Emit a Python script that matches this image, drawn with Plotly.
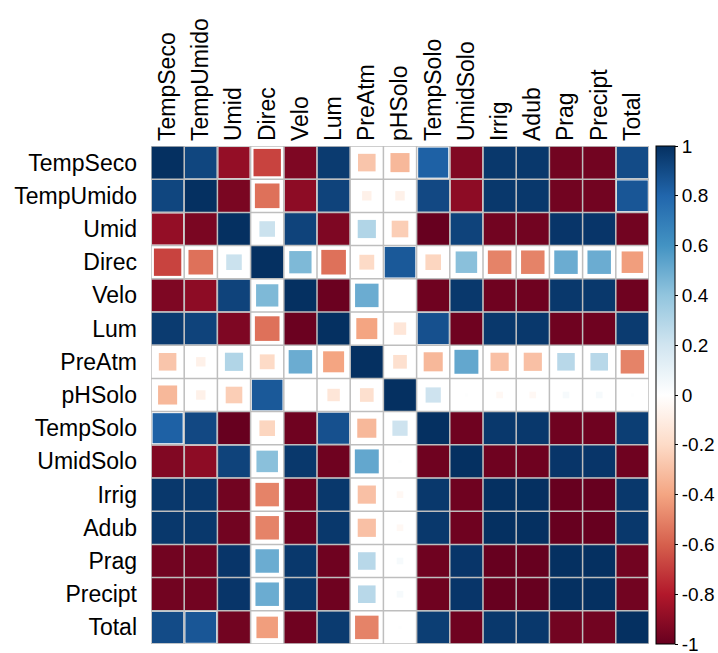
import math
import plotly.graph_objects as go

labels = ["TempSeco", "TempUmido", "Umid", "Direc", "Velo", "Lum", "PreAtm", "pHSolo",
          "TempSolo", "UmidSolo", "Irrig", "Adub", "Prag", "Precipt", "Total"]

corr = [
    [1, 0.92, -0.88, -0.68, -0.94, 0.96, -0.28, -0.33, 0.82, -0.93, 0.97, 0.97, -0.97, -0.97, 0.90],
    [0.92, 1, -0.95, -0.55, -0.90, 0.93, -0.08, -0.08, 0.91, -0.90, 0.97, 0.97, -0.97, -0.97, 0.86],
    [-0.88, -0.95, 1, 0.22, 0.93, -0.94, 0.30, -0.25, -1.00, 0.93, -0.97, -0.97, 0.98, 0.98, -0.97],
    [-0.68, -0.55, 0.22, 1, 0.45, -0.55, -0.20, 0.85, -0.22, 0.42, -0.50, -0.50, 0.50, 0.50, -0.42],
    [-0.94, -0.90, 0.93, 0.45, 1, -0.99, 0.50, 0.00, -0.98, 0.97, -0.98, -0.98, 0.97, 0.97, -0.98],
    [0.96, 0.93, -0.94, -0.55, -0.99, 1, -0.40, -0.14, 0.88, -0.98, 0.97, 0.97, -0.98, -0.98, 0.96],
    [-0.28, -0.08, 0.30, -0.20, 0.50, -0.40, 1, -0.17, -0.33, 0.52, -0.30, -0.30, 0.28, 0.28, -0.50],
    [-0.33, -0.08, -0.25, 0.85, 0.00, -0.14, -0.17, 1, 0.21, 0.01, -0.04, -0.04, 0.04, 0.04, 0.01],
    [0.82, 0.91, -1.00, -0.22, -0.98, 0.88, -0.33, 0.21, 1, -0.98, 0.97, 0.97, -0.98, -0.98, 0.95],
    [-0.93, -0.90, 0.93, 0.42, 0.97, -0.98, 0.52, 0.01, -0.98, 1, -0.98, -0.98, 0.98, 0.98, -0.98],
    [0.97, 0.97, -0.97, -0.50, -0.98, 0.97, -0.30, -0.04, 0.97, -0.98, 1, 1.00, -1.00, -1.00, 0.97],
    [0.97, 0.97, -0.97, -0.50, -0.98, 0.97, -0.30, -0.04, 0.97, -0.98, 1.00, 1, -1.00, -1.00, 0.97],
    [-0.97, -0.97, 0.98, 0.50, 0.97, -0.98, 0.28, 0.04, -0.98, 0.98, -1.00, -1.00, 1, 1.00, -0.97],
    [-0.97, -0.97, 0.98, 0.50, 0.97, -0.98, 0.28, 0.04, -0.98, 0.98, -1.00, -1.00, 1.00, 1, -0.97],
    [0.90, 0.86, -0.97, -0.42, -0.98, 0.96, -0.50, 0.01, 0.95, -0.98, 0.97, 0.97, -0.97, -0.97, 1],
]

colorbar_ticks = [1, 0.8, 0.6, 0.4, 0.2, 0, -0.2, -0.4, -0.6, -0.8, -1]

rdbu = ["#67001F", "#B2182B", "#D6604D", "#F4A582", "#FDDBC7", "#FFFFFF",
        "#D1E5F0", "#92C5DE", "#4393C3", "#2166AC", "#053061"]
colorscale = [[i / (len(rdbu) - 1), c] for i, c in enumerate(rdbu)]

W, H = 718, 653
ML, MR, MT, MB = 151, 69, 146, 9
PW = W - ML - MR
n = len(labels)
cell = PW / n

xs, ys, vals, sizes = [], [], [], []
for i in range(n):
    for j in range(n):
        v = corr[i][j]
        xs.append(j)
        ys.append(i)
        vals.append(v)
        sizes.append(math.sqrt(abs(v)) * cell)

fig = go.Figure()
fig.add_trace(go.Scatter(
    x=xs, y=ys, mode="markers",
    marker=dict(symbol="square", size=sizes, color=vals, colorscale=colorscale,
                cmin=-1, cmax=1, opacity=1, line=dict(width=0),
                colorbar=dict(
                    x=(656 - ML) / PW, xanchor="left", xpad=0,
                    y=0.5, yanchor="middle", ypad=0,
                    thickness=19, lenmode="pixels", len=PW,
                    outlinecolor="black", outlinewidth=1,
                    tickvals=colorbar_ticks, ticktext=[str(t) for t in colorbar_ticks],
                    ticks="outside", ticklen=3, tickcolor="black",
                    ticklabeloverflow="allow",
                    tickfont=dict(family="Liberation Sans, Arial", size=19, color="black"),
                )),
    hoverinfo="skip", showlegend=False,
))

shapes = []
for k in range(n + 1):
    shapes.append(dict(type="line", xref="x", yref="y", x0=k - 0.5, x1=k - 0.5,
                       y0=-0.5, y1=n - 0.5, line=dict(color="#BEBEBE", width=1.5), layer="above"))
    shapes.append(dict(type="line", xref="x", yref="y", y0=k - 0.5, y1=k - 0.5,
                       x0=-0.5, x1=n - 0.5, line=dict(color="#BEBEBE", width=1.5), layer="above"))

fig.update_layout(
    template="none",
    width=W, height=H,
    margin=dict(l=ML, r=MR, t=MT, b=MB, pad=0, autoexpand=False),
    paper_bgcolor="white", plot_bgcolor="white",
    shapes=shapes,
    font=dict(family="Liberation Sans, Arial", size=23, color="black"),
    xaxis=dict(range=[-0.5, n - 0.5], side="top", tickangle=-90,
               tickvals=list(range(n)), ticktext=labels, showgrid=False,
               zeroline=False, showline=False, ticks="", ticklabelstandoff=4,
               tickfont=dict(size=23), fixedrange=True, automargin=False),
    yaxis=dict(range=[n - 0.5, -0.5], tickvals=list(range(n)), ticktext=labels,
               showgrid=False, zeroline=False, showline=False, ticks="",
               ticklabelstandoff=13, tickfont=dict(size=23), fixedrange=True,
               automargin=False),
)

fig.write_html(
    "out.html",
    config={"displayModeBar": False, "staticPlot": True},
    post_script="document.body.style.margin='0';document.body.style.overflow='hidden';",
)
